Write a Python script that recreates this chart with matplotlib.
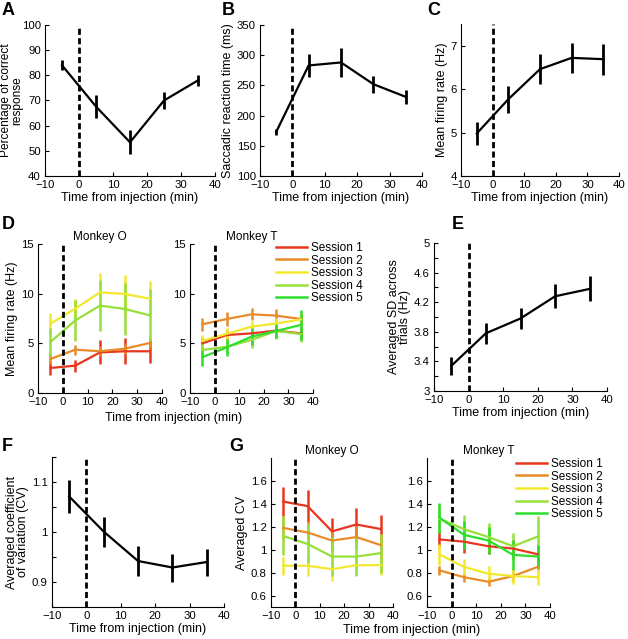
import numpy as np
import matplotlib
matplotlib.use("Agg")
import matplotlib.pyplot as plt

plt.rcParams["font.family"] = ["Liberation Sans", "DejaVu Sans"]
plt.rcParams["font.size"] = 8

# time points (min from injection)
t = [-5, 5, 15, 25, 35]

# A: percentage correct
pc = [84, 67.6, 53.4, 70, 78]
pc_err = [2, 4.6, 4.8, 3.5, 2.2]
# B: saccadic reaction time
srt = [173, 283, 288, 252, 231]
srt_err = [5.5, 18.5, 23.5, 14, 11]
# C: mean firing rate
fr = [4.98, 5.77, 6.46, 6.72, 6.69]
fr_err = [0.27, 0.31, 0.35, 0.35, 0.36]
# E: averaged SD across trials
sd = [3.34, 3.78, 3.98, 4.28, 4.38]
sd_err = [0.12, 0.14, 0.14, 0.16, 0.17]
# F: averaged CV
cv = [1.071, 1.001, 0.942, 0.929, 0.94]
cv_err = [0.033, 0.03, 0.03, 0.028, 0.027]

sessions = ["Session 1", "Session 2", "Session 3", "Session 4", "Session 5"]
colors = ["#e8361e", "#e88c2a", "#f2e82e", "#96e03a", "#2ede2e"]

# D: firing rate per session
frO = [[2.52, 2.75, 4.09, 4.2, 4.2],
       [3.42, 4.36, 4.2, 4.46, 5.03],
       [6.98, 8.49, 10.13, 9.97, 9.5],
       [5.13, 7.3, 8.8, 8.46, 7.82]]
frO_err = [[0.7, 0.6, 1.2, 1.3, 1.2],
           [0.5, 0.5, 0.5, 0.5, 0.5],
           [1.1, 1.0, 2.0, 1.9, 1.8],
           [1.4, 2.1, 2.6, 2.6, 2.6]]
frT = [[5.0, 5.84, 6.0, 6.28, 6.0],
       [6.92, 7.45, 7.92, 7.79, 7.45],
       [5.25, 5.96, 6.68, 7.0, 7.4],
       [4.33, 4.66, 5.34, 6.24, 5.94],
       [3.6, 4.6, 5.67, 6.24, 6.85]]
frT_err = [[0.5, 0.5, 0.5, 0.5, 0.5],
           [0.65, 0.75, 0.6, 0.65, 0.5],
           [0.6, 0.6, 0.6, 0.6, 0.6],
           [0.6, 0.6, 0.85, 0.85, 0.8],
           [0.85, 0.85, 0.85, 0.75, 1.5]]

# G: CV per session
cvO = [[1.42, 1.38, 1.16, 1.22, 1.18],
       [1.19, 1.15, 1.08, 1.11, 1.04],
       [0.86, 0.86, 0.83, 0.865, 0.865],
       [1.12, 1.05, 0.94, 0.94, 0.97]]
cvO_err = [[0.13, 0.14, 0.12, 0.14, 0.12],
           [0.1, 0.1, 0.1, 0.1, 0.1],
           [0.08, 0.09, 0.1, 0.09, 0.09],
           [0.17, 0.17, 0.17, 0.17, 0.17]]
cvT = [[1.09, 1.07, 1.03, 1.01, 0.96],
       [0.82, 0.76, 0.72, 0.77, 0.85],
       [0.96, 0.85, 0.79, 0.77, 0.76],
       [1.27, 1.18, 1.11, 1.03, 1.115],
       [1.28, 1.13, 1.08, 0.955, 0.94]]
cvT_err = [[0.07, 0.1, 0.07, 0.07, 0.07],
           [0.04, 0.04, 0.04, 0.04, 0.04],
           [0.09, 0.07, 0.07, 0.07, 0.07],
           [0.12, 0.12, 0.12, 0.12, 0.18],
           [0.13, 0.12, 0.12, 0.13, 0.1]]

W, H = 628, 639
fig = plt.figure(figsize=(W / 100, H / 100), dpi=100)


def add_ax(l, t_, r, b):
    return fig.add_axes([l / W, 1 - b / H, (r - l) / W, (b - t_) / H])


def style(ax, ylim, yticks, ylabels=None):
    ax.set_xlim(-10, 40)
    ax.set_xticks([-10, 0, 10, 20, 30, 40])
    ax.set_ylim(*ylim)
    ax.set_yticks(yticks)
    if ylabels is not None:
        ax.set_yticklabels(ylabels)
    for s in ["top", "right"]:
        ax.spines[s].set_visible(False)
    ax.tick_params(direction="in", length=3, width=0.8, labelsize=8.2, pad=3)
    ax.axvline(0, color="k", lw=2, ls=(0, (2.2, 1.2)), zorder=5)


def ylab(ax, s, size=9):
    ax.set_ylabel(s, fontsize=size, labelpad=2, linespacing=0.9)


def xlab(ax):
    ax.set_xlabel("Time from injection (min)", fontsize=9, labelpad=1)


def black(ax, y, e):
    ax.errorbar(t, y, yerr=e, color="k", lw=1.6, elinewidth=2, capsize=0)


def letter(x, y, s):
    fig.text(x / W, 1 - y / H, s, fontsize=13, fontweight="bold", va="top", ha="left")


# A
ax = add_ax(45, 25, 215, 176)
black(ax, pc, pc_err)
style(ax, (40, 100), np.arange(40, 101, 10))
ylab(ax, "Percentage of correct\nresponse", size=8.6)
ax.yaxis.set_label_coords(-0.13, 0.5)
xlab(ax)
letter(2, 2, "A")

# B
ax = add_ax(260, 25, 422, 176)
black(ax, srt, srt_err)
style(ax, (100, 350), np.arange(100, 351, 50))
ylab(ax, "Saccadic reaction time (ms)")
xlab(ax)
letter(222, 2, "B")

# C
ax = add_ax(461, 24, 619, 176)
black(ax, fr, fr_err)
style(ax, (4, 7.5), [4, 5, 6, 7])
ylab(ax, "Mean firing rate (Hz)")
xlab(ax)
letter(427, 2, "C")

# D
for k, (l, r, data, err, title) in enumerate([(38, 162, frO, frO_err, "Monkey O"),
                                              (190, 313, frT, frT_err, "Monkey T")]):
    ax = add_ax(l, 244, r, 393)
    for i in range(len(data)):
        ax.errorbar(t, data[i], yerr=err[i], color=colors[i], lw=1.6,
                    elinewidth=1.8, capsize=0)
    style(ax, (0, 15), [0, 5, 10, 15])
    ax.set_title(title, fontsize=8.5, pad=3)
    if k == 0:
        ylab(ax, "Mean firing rate (Hz)")
    else:
        handles = [plt.Line2D([], [], color=c, lw=1.8) for c in colors]
        fig.legend(handles, sessions, loc="upper left",
                   bbox_to_anchor=(276 / W, 1 - 242 / H), frameon=False,
                   fontsize=8.5, borderpad=0, borderaxespad=0,
                   labelspacing=0.05, handlelength=2.6, handletextpad=0.4)
fig.text(174 / W, 1 - 418 / H, "Time from injection (min)", fontsize=9, ha="center", va="center")
letter(2, 216, "D")

# E
ax = add_ax(434, 243, 607, 391)
black(ax, sd, sd_err)
ticks = np.round(np.arange(3, 5.01, 0.2), 1)
style(ax, (3, 5), ticks, [f"{v:g}" if i % 2 == 0 else "" for i, v in enumerate(ticks)])
ylab(ax, "Averaged SD across\ntrials (Hz)")
xlab(ax)
letter(452, 216, "E")

# F
ax = add_ax(52, 457, 224, 607)
black(ax, cv, cv_err)
ticks = [0.85, 0.9, 0.95, 1.0, 1.05, 1.1, 1.15]
style(ax, (0.85, 1.15), ticks, ["", "0.9", "", "1", "", "1.1", ""])
ylab(ax, "Averaged coefficient\nof variation (CV)")
xlab(ax)
letter(2, 438, "F")

# G
for k, (l, r, data, err, title) in enumerate([(271, 393, cvO, cvO_err, "Monkey O"),
                                              (427, 550, cvT, cvT_err, "Monkey T")]):
    ax = add_ax(l, 458, r, 607)
    for i in range(len(data)):
        ax.errorbar(t, data[i], yerr=err[i], color=colors[i], lw=1.6,
                    elinewidth=1.8, capsize=0)
    style(ax, (0.5, 1.8), [0.6, 0.8, 1.0, 1.2, 1.4, 1.6], ["0.6", "0.8", "1", "1.2", "1.4", "1.6"])
    ax.set_title(title, fontsize=8.5, pad=3)
    if k == 0:
        ylab(ax, "Averaged CV")
    else:
        handles = [plt.Line2D([], [], color=c, lw=1.8) for c in colors]
        fig.legend(handles, sessions, loc="upper left",
                   bbox_to_anchor=(516 / W, 1 - 458 / H), frameon=False,
                   fontsize=8.5, borderpad=0, borderaxespad=0,
                   labelspacing=0.05, handlelength=2.6, handletextpad=0.4)
fig.text(412 / W, 1 - 630 / H, "Time from injection (min)", fontsize=9, ha="center", va="center")
letter(229, 438, "G")

fig.savefig("out.png", dpi=100)
